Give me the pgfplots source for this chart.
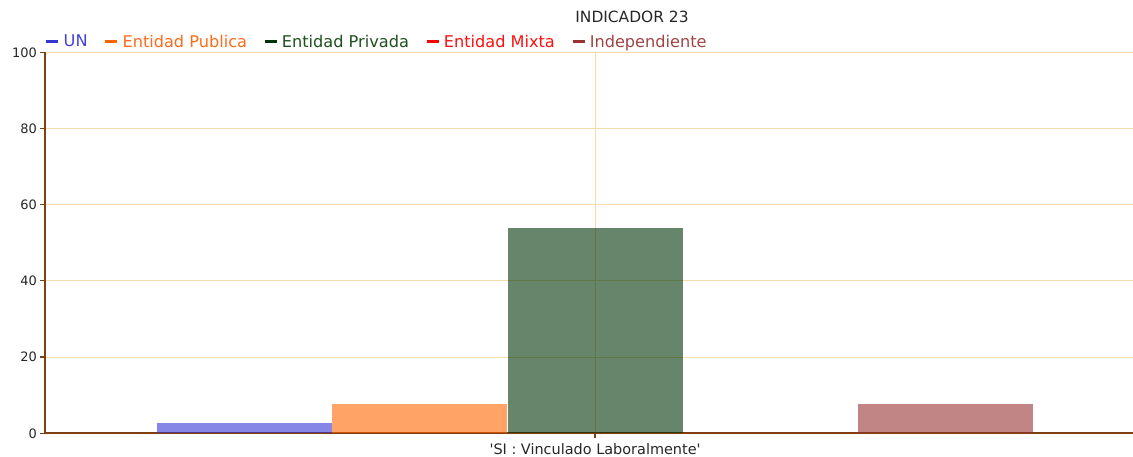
\documentclass[border=0pt]{standalone}
\usepackage{pgfplots}
\pgfplotsset{compat=1.18}
\usepackage{fontspec}
\setmainfont{DejaVu Sans}
\definecolor{cUN}{HTML}{3535D5}
\definecolor{cPub}{HTML}{FF6600}
\definecolor{cPriv}{HTML}{003308}
\definecolor{cMix}{HTML}{FF0000}
\definecolor{cInd}{HTML}{993333}
\definecolor{tUN}{HTML}{4040E0}
\definecolor{tPub}{HTML}{FF6A1A}
\definecolor{tPriv}{HTML}{1E501E}
\definecolor{tMix}{HTML}{FF1010}
\definecolor{tInd}{HTML}{A04444}
\definecolor{axisbrown}{HTML}{7F3F12}
\definecolor{gridc}{HTML}{F5DDA5}
\begin{document}
\begin{tikzpicture}
\useasboundingbox (0,0) rectangle (1133bp,457bp);
\begin{axis}[
  at={(45bp,23.7bp)}, anchor=south west,
  scale only axis, width=1088bp, height=381bp,
  xmin=-0.5, xmax=0.489, ymin=0, ymax=100,
  axis lines=left,
  axis line style={-, draw=axisbrown, line width=2bp},
  ytick={0,20,40,60,80,100},
  /pgf/number format/assume math mode=true,
  xtick={0}, xticklabels={\textquotesingle SI : Vinculado Laboralmente\textquotesingle},
  tick align=outside, major tick length=5bp,
  tick style={draw=axisbrown, line width=1.2bp},
  ymajorgrids, xmajorgrids,
  grid style={draw=gridc, line width=1bp},
  yticklabel style={inner sep=0pt, xshift=-3bp, font=\fontsize{13}{16}\selectfont, text=black!85},
  xticklabel style={inner sep=0pt, yshift=-5.5bp, font=\fontsize{14.5}{17}\selectfont, text=black!85},
  title={INDICADOR 23},
  title style={at={(0.5395,1)}, anchor=base, yshift=24bp, inner sep=0pt, font=\fontsize{15.5}{18}\selectfont, text=black!85},
  legend columns=-1,
  legend style={at={(0,1)}, anchor=south west, xshift=0bp, yshift=2.5bp, draw=none, fill=none,
    inner sep=0pt, nodes={inner sep=1bp}, font=\fontsize{16.2}{18}\selectfont,
    /tikz/every odd column/.append style={column sep=3bp},
    /tikz/every even column/.append style={column sep=15.5bp}},
  legend image code/.code={\draw[#1, line width=2.5bp] (0bp,0bp) -- (12bp,0bp);},
]
\addplot[ybar, bar width=0.159, bar shift=0pt, fill=cUN, fill opacity=0.6, draw=none, forget plot] coordinates {(-0.3186,2.6)};
\addplot[ybar, bar width=0.159, bar shift=0pt, fill=cPub, fill opacity=0.6, draw=none, forget plot] coordinates {(-0.1595,7.6)};
\addplot[ybar, bar width=0.159, bar shift=0pt, fill=cPriv, fill opacity=0.6, draw=none, forget plot] coordinates {(0.0005,53.8)};
\addplot[ybar, bar width=0.159, bar shift=0pt, fill=cMix, fill opacity=0.6, draw=none, forget plot] coordinates {(0.1595,0)};
\addplot[ybar, bar width=0.159, bar shift=0pt, fill=cInd, fill opacity=0.6, draw=none, forget plot] coordinates {(0.3186,7.6)};
\addlegendimage{draw=cUN}
\addlegendentry{\textcolor{tUN}{UN}}
\addlegendimage{draw=cPub}
\addlegendentry{\textcolor{tPub}{Entidad Publica}}
\addlegendimage{draw=cPriv}
\addlegendentry{\textcolor{tPriv}{Entidad Privada}}
\addlegendimage{draw=cMix}
\addlegendentry{\textcolor{tMix}{Entidad Mixta}}
\addlegendimage{draw=cInd}
\addlegendentry{\textcolor{tInd}{Independiente}}
\end{axis}
\end{tikzpicture}
\end{document}
